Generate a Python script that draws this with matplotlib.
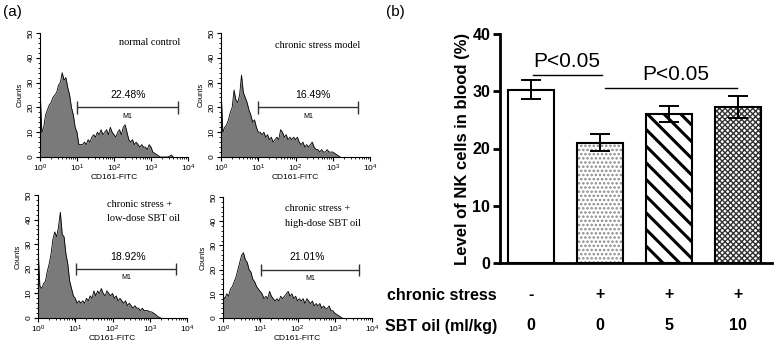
import numpy as np
import matplotlib.pyplot as plt
from matplotlib.ticker import MultipleLocator

plt.rcParams['font.family'] = ['Liberation Sans', 'DejaVu Sans']

# panel (a): flow cytometry counts, one value every 0.05 log10 units starting at 10^0
hist_normal = [28, 10, 12, 17, 19, 21, 22, 24, 25, 26, 29, 30, 34, 31, 32, 28, 25, 20, 17, 12,
               10, 5, 5, 5, 6, 5, 7, 6, 8, 9, 8, 10, 9, 11, 9, 10, 11, 9, 12, 10,
               9, 8, 10, 11, 9, 12, 13, 10, 7, 6, 7, 5, 6, 5, 4, 5, 4, 4, 3, 5,
               4, 2, 1.5, 1, 0.5, 0, 0, 0, 0, 0, 0.3, 0.8, 0]
hist_stress = [28, 10, 12, 13, 15, 18, 20, 27, 23, 22, 25, 33, 26, 24, 22, 19, 17, 14, 15, 12,
               10, 10, 9, 10, 8, 9, 7, 8, 6, 7, 8, 7, 11, 10, 8, 9, 7, 8, 7, 8,
               7, 8, 6, 5, 6, 4, 5, 4, 5, 6, 4, 3, 3, 2, 3, 2, 2, 3, 2, 2,
               2, 1.5, 1, 0.5, 0]
hist_low = [29, 13, 12, 14, 15, 19, 22, 26, 32, 35, 33, 37, 43, 34, 33, 26, 22, 15, 12, 9,
            8, 6, 7, 6, 7, 6, 8, 7, 9, 8, 11, 9, 11, 10, 12, 10, 9, 11, 10, 9,
            10, 8, 9, 7, 8, 7, 6, 7, 5, 6, 5, 4, 5, 4, 4, 3, 4, 3, 3, 3,
            2.5, 2.5, 2, 1.5, 0.8, 0.3, 0]
hist_high = [9, 8, 10, 9, 12, 13, 15, 17, 20, 23, 26, 27, 24, 23, 20, 19, 16, 15, 13, 12,
             11, 10, 8, 9, 8, 11, 9, 8, 7, 8, 7, 9, 8, 9, 10, 11, 9, 10, 8, 9,
             7, 8, 7, 8, 6, 8, 7, 6, 7, 5, 6, 5, 6, 4, 5, 4, 4, 5, 3, 3,
             2, 1.5, 1, 0.5, 0]
hist_titles = ["normal control", "chronic stress model",
               "chronic stress +\nlow-dose SBT oil", "chronic stress +\nhigh-dose SBT oil"]
gate_pct = ["22.48%", "16.49%", "18.92%", "21.01%"]

# panel (b): NK cell level
nk_mean = [30.3, 21.0, 26.0, 27.2]
nk_err = [1.7, 1.5, 1.4, 1.9]
stress_row = ["-", "+", "+", "+"]
sbt_row = ["0", "0", "5", "10"]

W, H = 775, 346
fig = plt.figure(figsize=(W / 100, H / 100), dpi=100)


def px_axes(left, top, right, bottom):
    return fig.add_axes([left / W, 1 - bottom / H, (right - left) / W, (bottom - top) / H])


# ---------------- (a) ----------------
hist_boxes = [(40, 33, 188, 157), (221, 33, 370, 157), (38, 195, 187, 318), (223, 197, 372, 318)]
# title anchor (log10 x, count, ha), gate (lo, hi) in log10, pct label x
title_pos = [(3.8, 46, 'right'), (3.75, 45, 'right'), (1.84, 43.4, 'left'), (1.66, 42.2, 'left')]
gates = [(1.01, 3.72), (1.0, 3.67), (1.02, 3.70), (1.01, 3.66)]
pct_x = [2.38, 2.47, 2.42, 2.25]
all_hists = [hist_normal, hist_stress, hist_low, hist_high]

for i, counts in enumerate(all_hists):
    ax = px_axes(*hist_boxes[i])
    fl = 10 ** (0.05 * np.arange(len(counts)))
    ax.fill_between(fl, counts, color='#7a7a7a', lw=0)
    ax.plot(fl, counts, color='black', lw=0.6)
    ax.set_xscale('log')
    ax.set_xlim(1, 1e4)
    ax.set_ylim(0, 50)
    for s in ['top', 'right']:
        ax.spines[s].set_visible(False)
    for s in ['left', 'bottom']:
        ax.spines[s].set_linewidth(0.8)
    ax.yaxis.set_major_locator(MultipleLocator(10))
    ax.yaxis.set_minor_locator(MultipleLocator(2))
    ax.tick_params(which='major', direction='out', length=3, width=0.8, labelsize=6, pad=1)
    ax.tick_params(which='minor', direction='out', length=1.5, width=0.6)
    ax.tick_params(axis='y', labelrotation=90)
    for lab in ax.get_yticklabels():
        lab.set_va('center')
    ax.set_ylabel("Counts", fontsize=5.5)
    ax.yaxis.set_label_coords(-0.11, 0.5)
    ax.set_xlabel("CD161-FITC", fontsize=6)
    ax.xaxis.set_label_coords(0.5, -0.14)

    tx, ty, ha = title_pos[i]
    ax.text(10 ** tx, ty, hist_titles[i], ha=ha, va='center', fontsize=7.5,
            family='Liberation Serif', linespacing=1.75)
    lo, hi = gates[i]
    ax.hlines(20, 10 ** lo, 10 ** hi, color='#333333', lw=1)
    ax.vlines([10 ** lo, 10 ** hi], 17.5, 22.5, color='#333333', lw=1)
    ax.text(10 ** pct_x[i], 25, gate_pct[i], ha='center', va='center', fontsize=7.5)
    ax.text(10 ** ((lo + hi) / 2), 16.3, "M1", ha='center', va='center', fontsize=5)

fig.text(3 / W, 1 - 12 / H, "(a)", fontsize=11, va='center', ha='left')
fig.text(386 / W, 1 - 12 / H, "(b)", fontsize=11, va='center', ha='left')

# ---------------- (b) ----------------
axb = px_axes(500, 34, 772, 263)
xpos = np.arange(len(nk_mean))
bw = 0.67
hatches = [None, '....', '\\\\', 'xxxxxx']
hatch_cols = ['white', '#8a8a8a', 'black', '#333333']
hatch_lws = [1.0, 1.2, 2.2, 1.0]
for i in range(len(nk_mean)):
    with plt.rc_context({'hatch.linewidth': hatch_lws[i]}):
        axb.bar(xpos[i], nk_mean[i], width=bw, color='white', edgecolor=hatch_cols[i],
                hatch=hatches[i], linewidth=0, zorder=1)
    axb.bar(xpos[i], nk_mean[i], width=bw, fill=False, edgecolor='black', linewidth=1.5, zorder=2)
axb.errorbar(xpos, nk_mean, yerr=nk_err, fmt='none', ecolor='black', elinewidth=1.4,
             capsize=7.5, capthick=1.4, zorder=3)

axb.set_xlim(-0.45, 3.49)
axb.set_ylim(0, 40)
axb.set_xticks([])
axb.set_yticks([0, 10, 20, 30, 40])
for s in ['top', 'right']:
    axb.spines[s].set_visible(False)
for s in ['left', 'bottom']:
    axb.spines[s].set_linewidth(2)
axb.tick_params(axis='y', direction='out', length=5, width=2, labelsize=11.5, pad=2)
for lab in axb.get_yticklabels():
    lab.set_fontweight('bold')
axb.set_ylabel("Level of NK cells in blood (%)", fontsize=12, fontweight='bold')
axb.yaxis.set_label_coords(-0.11, 0.5)

# significance bars
axb.plot([0.03, 1.03], [32.8, 32.8], color='black', lw=1, clip_on=False)
axb.text(0.52, 35.2, "P<0.05", ha='center', va='center', fontsize=15)
axb.plot([1.07, 2.99], [30.5, 30.5], color='black', lw=1, clip_on=False)
axb.text(2.09, 33.0, "P<0.05", ha='center', va='center', fontsize=15)

# treatment table under the bars
trans = axb.get_xaxis_transform()
row_y = [(263 - 295) / 229, (263 - 326) / 229]
for j in range(len(xpos)):
    axb.text(xpos[j], row_y[0], stress_row[j], transform=trans, ha='center', va='center',
             fontsize=11.5, fontweight='bold', clip_on=False)
    axb.text(xpos[j], row_y[1], sbt_row[j], transform=trans, ha='center', va='center',
             fontsize=11.5, fontweight='bold', clip_on=False)
fig.text(497 / W, 1 - 295 / H, "chronic stress", ha='right', va='center', fontsize=11.5,
         fontweight='bold')
fig.text(497 / W, 1 - 326 / H, "SBT oil (ml/kg)", ha='right', va='center', fontsize=11.5,
         fontweight='bold')

fig.savefig("out.png", dpi=100)
